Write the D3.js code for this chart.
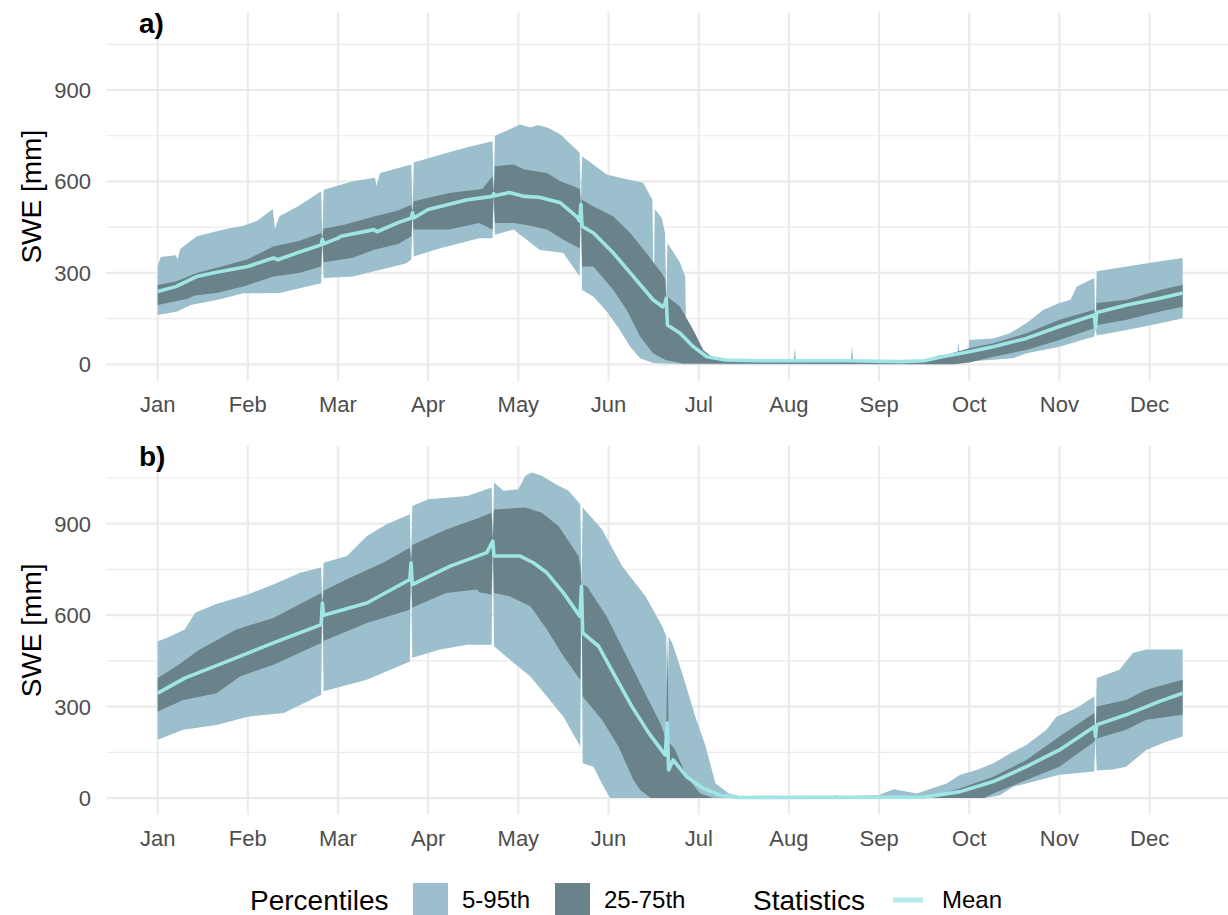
<!DOCTYPE html>
<html>
<head>
<meta charset="utf-8">
<script src="https://cdn.jsdelivr.net/npm/d3@7"></script>
<style>
  body { margin: 0; background: #fff; }
  text { font-family: "Liberation Sans", Arial, sans-serif; }
</style>
</head>
<body>
<div id="chart"></div>
<script>

// ---- data: [day index, SWE mm] ----
var monthLabels = ["Jan","Feb","Mar","Apr","May","Jun","Jul","Aug","Sep","Oct","Nov","Dec"];
var yBreaks = [0, 300, 600, 900];
var yMinor = [150, 450, 750, 1050];

// panel a
var aP95 = [[0,322],[1,352],[6,358],[6.6,345],[7.5,378],[13,420],[22,442],[28.5,455],[33,470],[38.3,510],[39,445],[40.5,486],[47,520],[54.4,568],[54.8,410],[55.2,573],[65,601],[72.3,612],[72.8,585],[74,628],[84.4,656],[84.8,497],[85.2,662],[94,688],[103,712],[111.4,732],[111.8,560],[112.2,750],[118,775],[120.6,787],[124,777],[126.6,785],[130,775],[134,754],[140.4,694],[140.8,524],[141.2,683],[149.4,623],[153.8,612],[161.5,596],[164.6,540],[165,205],[165.4,510],[167.7,480],[168.8,431],[169.2,217],[169.6,398],[173.8,333],[175.5,288],[176,10],[185,15],[211.6,14],[212,53],[212.4,14],[230.6,14],[231,58],[231.4,14],[256,14],[260,31],[266,30],[266.4,74],[266.8,35],[269.8,45],[270,80],[278,85],[283.5,102],[289,135],[294.7,179],[300,201],[303.7,212],[305.8,255],[311.6,283],[312,118],[312.4,305],[322.4,321],[333.5,338],[341,349]];
var aP5 = [[0,162],[6.5,173],[11,195],[20,212],[28.5,233],[40.5,234],[54.4,266],[54.8,410],[55.2,283],[65,288],[82.8,332],[84.4,345],[84.8,497],[85.2,354],[94,381],[107,414],[111.4,414],[111.8,560],[112.2,425],[118.4,442],[122.8,409],[127,376],[135,365],[140.4,288],[140.8,524],[141.2,244],[145,222],[149.4,173],[153.8,113],[157.2,58],[160.5,20],[164.8,4],[175,0],[265,0],[270,9],[284.6,20],[289,36],[294.7,47],[300,58],[311.6,91],[312,118],[312.4,95],[322.4,113],[333.5,135],[341,151]];
var aP75 = [[0,260],[6,272],[13,300],[20,318],[30,345],[38.5,387],[47,405],[54.4,431],[54.8,410],[55.2,445],[62,458],[72,485],[80,505],[84.4,524],[84.8,497],[85.2,535],[97,562],[108,575],[111.4,617],[111.8,560],[112.2,650],[118.4,656],[122,639],[129.5,628],[134,601],[138.3,584],[140.4,575],[140.8,524],[141.2,540],[145,518],[151.6,485],[157.2,431],[162.6,365],[167.7,299],[168.8,280],[169.2,217],[169.6,222],[173.8,189],[178.2,113],[181.5,47],[185,20],[190,10],[256,12],[262,31],[270,53],[278,69],[289,102],[300,146],[311.6,179],[312,118],[312.4,201],[322.4,212],[333.5,244],[341,261]];
var aP25 = [[0,195],[10,215],[12,225],[20,235],[28.5,255],[38.5,288],[47,300],[54.4,321],[54.8,410],[55.2,335],[65,350],[72,376],[80,395],[84.4,420],[84.8,497],[85.2,442],[97,442],[107,464],[111.4,442],[111.8,560],[112.2,464],[118.4,464],[124,455],[129.5,442],[135,409],[140.4,381],[140.8,524],[141.2,321],[145,321],[151.6,244],[156,179],[160.5,91],[164.8,36],[169,14],[175,3],[265,0],[270,6],[278,25],[289,47],[300,80],[311.6,118],[312,118],[312.4,128],[322.4,146],[333.5,173],[341,189]];
var aMean = [[0,239],[6,255],[13,288],[20,303],[30,321],[38.5,349],[40,343],[47,368],[54.4,392],[54.8,410],[55.2,395],[60,414],[61,420],[72,442],[73,435],[80,465],[84.4,480],[84.8,497],[85.2,480],[90,508],[103,540],[111.4,551],[111.8,560],[112.2,553],[117,564],[122,551],[127,548],[134,530],[139.4,485],[140.4,470],[140.8,524],[141.2,453],[145,431],[151.6,365],[158.3,288],[164.8,212],[168,189],[168.8,200],[169.2,217],[169.6,129],[173.8,102],[178.2,58],[182.7,25],[189,14],[200,12],[230,12],[247,9],[255,12],[261,25],[270,41],[278,58],[289,85],[300,124],[311.6,162],[312,118],[312.4,170],[322.4,195],[333.5,217],[341,234]];

// panel b
var bP95 = [[0,514],[3,525],[9,553],[12.5,608],[19,635],[30,668],[38.5,701],[47.4,739],[54.4,756],[54.8,640],[55.2,772],[63,794],[69.6,860],[76.2,898],[83.9,931],[84.3,772],[84.7,958],[90,980],[103,991],[111.1,1019],[111.5,843],[111.9,1035],[115,1008],[120,1013],[122.3,1057],[124.5,1068],[127.8,1057],[132.3,1030],[136.7,1008],[140.6,964],[141,695],[141.4,953],[147.8,882],[154.5,761],[162.3,662],[167.9,563],[169.2,531],[169.6,246],[170,530],[171.2,509],[174.5,410],[178.9,267],[182.3,169],[185.6,48],[190,15],[194.5,4],[225,4],[226,10],[227,4],[240,10],[244.8,29],[252.6,15],[256,26],[262.5,48],[267,76],[272.5,92],[278,114],[284.6,152],[289,174],[295.7,224],[299,267],[305.7,295],[311.6,333],[312,202],[312.4,394],[320,421],[324.4,476],[328.9,487],[341,487]];
var bP5 = [[0,191],[8.5,224],[19.6,240],[30,267],[42,279],[54.4,339],[54.8,640],[55.2,350],[69.6,388],[83.9,448],[84.3,772],[84.7,460],[94,487],[103,503],[111.1,503],[111.5,843],[111.9,498],[118.5,443],[124,399],[129.5,333],[135,267],[140.6,169],[141,695],[141.4,114],[145,103],[147.8,48],[150.5,0],[275,0],[280,8],[284.6,37],[289,48],[300,76],[311.6,87],[312,202],[312.4,90],[317.8,94],[322.2,103],[325.5,130],[328.9,158],[335.5,185],[341,202]];
var bP75 = [[0,394],[6.3,432],[14,487],[26.2,553],[38.5,591],[54.4,673],[54.8,640],[55.2,680],[64,723],[75,772],[83.9,821],[84.3,772],[84.7,830],[96.2,882],[107,920],[111.1,936],[111.5,843],[111.9,947],[122.3,953],[127.8,936],[133.4,892],[140,794],[140.6,760],[141,695],[141.4,700],[142.8,695],[149.4,596],[153.8,509],[158.3,421],[162.7,333],[167.2,246],[169.2,191],[169.6,531],[170,185],[172.2,158],[176,70],[180.5,15],[185,0],[255,0],[267,32],[278,70],[289,125],[300,202],[311.6,279],[312,202],[312.4,300],[322.2,322],[328.9,355],[341,388]];
var bP25 = [[0,284],[8.5,322],[19.6,344],[27.4,399],[38.5,437],[54.4,509],[54.8,640],[55.2,515],[69.6,574],[83.9,618],[84.3,772],[84.7,625],[96,673],[106.2,684],[107,675],[111.1,668],[111.5,843],[111.9,673],[117,662],[124,629],[129.5,553],[135,465],[140.6,388],[141,695],[141.4,333],[147.8,257],[153.3,169],[158.3,59],[160.5,26],[164,0],[275,0],[278,15],[289,59],[300,103],[311.6,185],[312,202],[312.4,195],[322.2,224],[328.9,257],[341,273]];
var bMean = [[0,344],[9.2,394],[24.6,454],[38.5,509],[54.4,569],[54.8,640],[55.2,600],[69.6,640],[83.9,717],[84.3,772],[84.7,700],[97.3,761],[109.5,805],[111.5,843],[111.9,794],[120.6,794],[125,772],[129.5,739],[135,673],[140.5,596],[141,695],[141.4,542],[146.7,498],[152.2,399],[157.8,300],[163.4,213],[168.9,141],[169.5,246],[170,92],[171.5,125],[176,70],[181.5,32],[187,10],[193,2],[255,3],[267,21],[278,54],[289,103],[300,158],[311.6,234],[312,202],[312.4,240],[322.2,273],[333.3,317],[341,344]];

var panelsData = [
    { label: "a)", p95: aP95, p5: aP5, p75: aP75, p25: aP25, mean: aMean },
    { label: "b)", p95: bP95, p5: bP5, p75: bP75, p25: bP25, mean: bMean }
];

// ---- layout ----
var W = 1228, H = 915;
var colLight = "#9bbfcc", colDark = "#6a828a", colMean = "#a0e5e5";
var gridCol = "#ebebeb", tickCol = "#4d4d4d";

var svg = d3.select("#chart").append("svg")
    .attr("width", W)
    .attr("height", H);

var x = d3.scaleLinear()
    .domain([-17.05, 358.05])
    .range([106.4, 1233.9]);

var panelBox = [
    { top: 12.3, bottom: 381.1, labelY: 33 },
    { top: 446.0, bottom: 814.8, labelY: 466 }
];

panelsData.forEach(function(p, i) {
    var box = panelBox[i];
    var y = d3.scaleLinear()
        .domain([-55, 1155])
        .range([box.bottom, box.top]);

    var g = svg.append("g");

    // grid
    g.selectAll(".hminor").data(yMinor).enter().append("line")
        .attr("x1", x.range()[0]).attr("x2", x.range()[1])
        .attr("y1", function(d) { return y(d); })
        .attr("y2", function(d) { return y(d); })
        .attr("stroke", gridCol).attr("stroke-width", 1.2);
    g.selectAll(".hmajor").data(yBreaks).enter().append("line")
        .attr("x1", x.range()[0]).attr("x2", x.range()[1])
        .attr("y1", function(d) { return y(d); })
        .attr("y2", function(d) { return y(d); })
        .attr("stroke", gridCol).attr("stroke-width", 2.2);
    g.selectAll(".vmajor").data(monthLabels).enter().append("line")
        .attr("x1", function(d, j) { return x(j * 30); })
        .attr("x2", function(d, j) { return x(j * 30); })
        .attr("y1", box.top).attr("y2", box.bottom)
        .attr("stroke", gridCol).attr("stroke-width", 2.2);

    // bands: upper edge forward, lower edge back
    var edge = d3.line()
        .x(function(d) { return x(d[0]); })
        .y(function(d) { return y(d[1]); });

    function band(upper, lower) {
        return edge(upper.concat(lower.slice().reverse())) + "Z";
    }

    g.append("path")
        .attr("d", band(p.p95, p.p5))
        .attr("fill", colLight);
    g.append("path")
        .attr("d", band(p.p75, p.p25))
        .attr("fill", colDark);

    g.append("path")
        .datum(p.mean)
        .attr("d", edge)
        .attr("fill", "none")
        .attr("stroke", colMean)
        .attr("stroke-width", 3.6)
        .attr("stroke-linejoin", "round");

    // axes text
    g.selectAll(".xlab").data(monthLabels).enter().append("text")
        .attr("x", function(d, j) { return x(j * 30); })
        .attr("y", box.bottom + 31)
        .attr("text-anchor", "middle")
        .attr("font-size", 22)
        .attr("fill", tickCol)
        .text(function(d) { return d; });

    g.selectAll(".ylab").data(yBreaks).enter().append("text")
        .attr("x", 91)
        .attr("y", function(d) { return y(d) + 8; })
        .attr("text-anchor", "end")
        .attr("font-size", 22)
        .attr("fill", tickCol)
        .text(function(d) { return d; });

    g.append("text")
        .attr("transform", "translate(41," + ((box.top + box.bottom) / 2) + ") rotate(-90)")
        .attr("text-anchor", "middle")
        .attr("font-size", 28)
        .attr("fill", "#000")
        .text("SWE [mm]");

    g.append("text")
        .attr("x", 139)
        .attr("y", box.labelY)
        .attr("font-size", 28)
        .attr("font-weight", "bold")
        .attr("fill", "#000")
        .text(p.label);
});

// legend
var leg = svg.append("g");
leg.append("text").attr("x", 250).attr("y", 910).attr("font-size", 28).text("Percentiles");
leg.append("rect").attr("x", 413).attr("y", 883).attr("width", 35).attr("height", 40).attr("fill", colLight);
leg.append("text").attr("x", 462).attr("y", 908).attr("font-size", 24).attr("fill", "#000").text("5-95th");
leg.append("rect").attr("x", 555).attr("y", 883).attr("width", 35).attr("height", 40).attr("fill", colDark);
leg.append("text").attr("x", 604).attr("y", 908).attr("font-size", 24).attr("fill", "#000").text("25-75th");
leg.append("text").attr("x", 753).attr("y", 910).attr("font-size", 28).text("Statistics");
leg.append("line").attr("x1", 893).attr("x2", 923).attr("y1", 900).attr("y2", 900)
    .attr("stroke", "#b4ecec").attr("stroke-width", 5);
leg.append("text").attr("x", 942).attr("y", 908).attr("font-size", 24).attr("fill", "#000").text("Mean");

</script>
</body>
</html>
